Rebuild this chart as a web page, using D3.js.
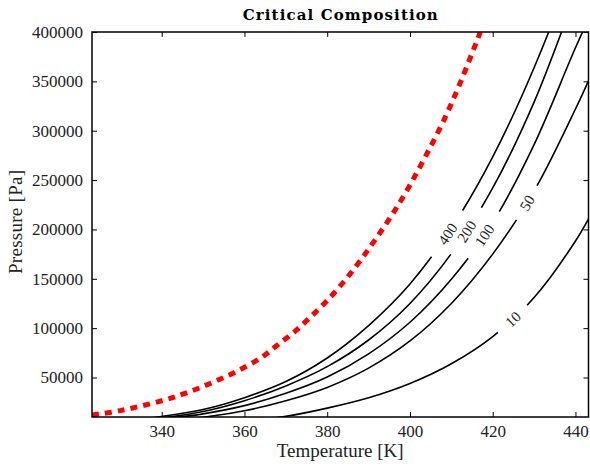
<!DOCTYPE html>
<html>
<head>
<meta charset="utf-8">
<script src="https://cdn.jsdelivr.net/npm/d3@7"></script>
<style>
body { margin: 0; background: #fff; }
text { font-family: "Liberation Serif", "DejaVu Serif", serif; fill: #222; }
</style>
</head>
<body>
<div id="chart"></div>
<script>
// contour grid (temperature in K)
const temps = [330, 340, 350, 360, 370, 380, 390, 400, 410, 420, 430, 440, 445];

// pressure [Pa] along each contour level
const p10  = [500, 1200, 3000, 6000, 10700, 19000, 29500, 44000, 64000, 91500, 131000, 188300, 225000];
const p50  = [2500, 5500, 9800, 16300, 26500, 40000, 59500, 87000, 125000, 175000, 239000, 322000, 368000];
const p100 = [3500, 7800, 13200, 21500, 34000, 50500, 74000, 106000, 149500, 207000, 286000, 384000, 430000];
const p200 = [4500, 8900, 15500, 26500, 41500, 61000, 88000, 125000, 175500, 242000, 329000, 438000, 495000];
const p400 = [5500, 10500, 17600, 29600, 45900, 69800, 102600, 144700, 201100, 273500, 363800, 472900, 539000];

const levels = [10, 50, 100, 200, 400];

// critical composition curve
const critT = [323.15, 330, 340, 346, 352, 358, 364, 368, 372, 376, 380, 384, 388, 392, 396, 400, 404, 408, 412, 417];
const critP = [12000, 16500, 26500, 34500, 44500, 56000, 70000, 83000, 96000, 111500, 128000, 147000, 168500, 192000, 217000, 245000, 276000, 309000, 347000, 400000];

const xTicks = [340, 360, 380, 400, 420, 440];
const yTicks = [50000, 100000, 150000, 200000, 250000, 300000, 350000, 400000];

const width = 590, height = 466;
const plotL = 92, plotR = 588.5, plotT = 32, plotB = 417;

const svg = d3.select("#chart").append("svg")
    .attr("width", width)
    .attr("height", height);

const x = d3.scaleLinear().domain([323.15, 443.15]).range([plotL, plotR]);
const y = d3.scaleLinear().domain([10000, 400000]).range([plotB, plotT]);

svg.append("clipPath").attr("id", "clip")
  .append("rect")
    .attr("x", plotL).attr("y", plotT)
    .attr("width", plotR - plotL).attr("height", plotB - plotT);

const plot = svg.append("g").attr("clip-path", "url(#clip)");

const line = d3.line()
    .x(d => x(d[0]))
    .y(d => y(d[1]))
    .curve(d3.curveCatmullRom.alpha(0.5));

// where the inline labels sit (temperature along each contour)
const labelAt = { 10: 424.9, 50: 428.3, 100: 418.0, 200: 413.7, 400: 409.1 };

const series = [p10, p50, p100, p200, p400];

series.forEach((vals, i) => {
    const level = levels[i];
    const path = plot.append("path")
        .datum(temps.map((t, j) => [t, vals[j]]))
        .attr("d", line)
        .attr("fill", "none")
        .attr("stroke", "#000")
        .attr("stroke-width", 1.6);

    // find the spot on the path for the label, cut a gap there
    const node = path.node();
    const total = node.getTotalLength();
    const tx = x(labelAt[level]);
    let lo = 0, hi = total;
    for (let k = 0; k < 40; k++) {
        const mid = (lo + hi) / 2;
        if (node.getPointAtLength(mid).x < tx) lo = mid; else hi = mid;
    }
    const L0 = (lo + hi) / 2;
    const p = node.getPointAtLength(L0);
    const a = node.getPointAtLength(L0 - 4), b = node.getPointAtLength(L0 + 4);
    const angle = Math.atan2(b.y - a.y, b.x - a.x) * 180 / Math.PI;
    const gap = String(level).length * 16 + 8;

    path.attr("stroke-dasharray", `${L0 - gap / 2},${gap},${total}`);

    svg.append("text")
        .attr("transform", `translate(${p.x},${p.y}) rotate(${angle})`)
        .attr("text-anchor", "middle")
        .attr("dy", "0.35em")
        .attr("font-size", 15)
        .text(level);
});

// red dotted critical line
plot.append("path")
    .datum(critT.map((t, j) => [t, critP[j]]))
    .attr("d", line)
    .attr("fill", "none")
    .attr("stroke", "#ff0000")
    .attr("stroke-width", 5)
    .attr("stroke-dasharray", "7,6");

// axes, ticks pointing inward on all four sides
const fmt = d3.format("d");
const xAxis = svg.append("g")
    .attr("transform", `translate(0,${plotB})`)
    .call(d3.axisBottom(x).tickValues(xTicks).tickSizeInner(-5).tickSizeOuter(0).tickPadding(8).tickFormat(fmt));
const yAxis = svg.append("g")
    .attr("transform", `translate(${plotL},0)`)
    .call(d3.axisLeft(y).tickValues(yTicks).tickSizeInner(-5).tickSizeOuter(0).tickPadding(9).tickFormat(fmt));
const xTop = svg.append("g")
    .attr("transform", `translate(0,${plotT})`)
    .call(d3.axisTop(x).tickValues(xTicks).tickSizeInner(-5).tickSizeOuter(0).tickFormat(""));
const yRight = svg.append("g")
    .attr("transform", `translate(${plotR},0)`)
    .call(d3.axisRight(y).tickValues(yTicks).tickSizeInner(-5).tickSizeOuter(0).tickFormat(""));

[xAxis, yAxis, xTop, yRight].forEach(g => {
    g.select(".domain").remove();
    g.selectAll(".tick line").attr("stroke", "#000");
    g.selectAll(".tick text")
        .attr("font-size", 17)
        .attr("font-family", "Liberation Serif, serif")
        .attr("fill", "#222");
});

// frame
svg.append("rect")
    .attr("x", plotL).attr("y", plotT)
    .attr("width", plotR - plotL).attr("height", plotB - plotT)
    .attr("fill", "none")
    .attr("stroke", "#000")
    .attr("stroke-width", 1.5);

// title and labels
svg.append("text")
    .attr("x", (plotL + plotR) / 2)
    .attr("y", 20)
    .attr("text-anchor", "middle")
    .attr("font-size", 15)
    .attr("font-weight", "bold")
    .attr("textLength", 195)
    .attr("lengthAdjust", "spacing")
    .style("font-family", "DejaVu Serif, serif")
    .style("fill", "#000")
    .text("Critical Composition");

svg.append("text")
    .attr("x", (plotL + plotR) / 2)
    .attr("y", 457)
    .attr("text-anchor", "middle")
    .attr("font-size", 19)
    .text("Temperature [K]");

svg.append("text")
    .attr("transform", "rotate(-90)")
    .attr("x", -222)
    .attr("y", 22)
    .attr("text-anchor", "middle")
    .attr("font-size", 19)
    .attr("textLength", 104)
    .attr("lengthAdjust", "spacing")
    .text("Pressure [Pa]");
</script>
</body>
</html>
